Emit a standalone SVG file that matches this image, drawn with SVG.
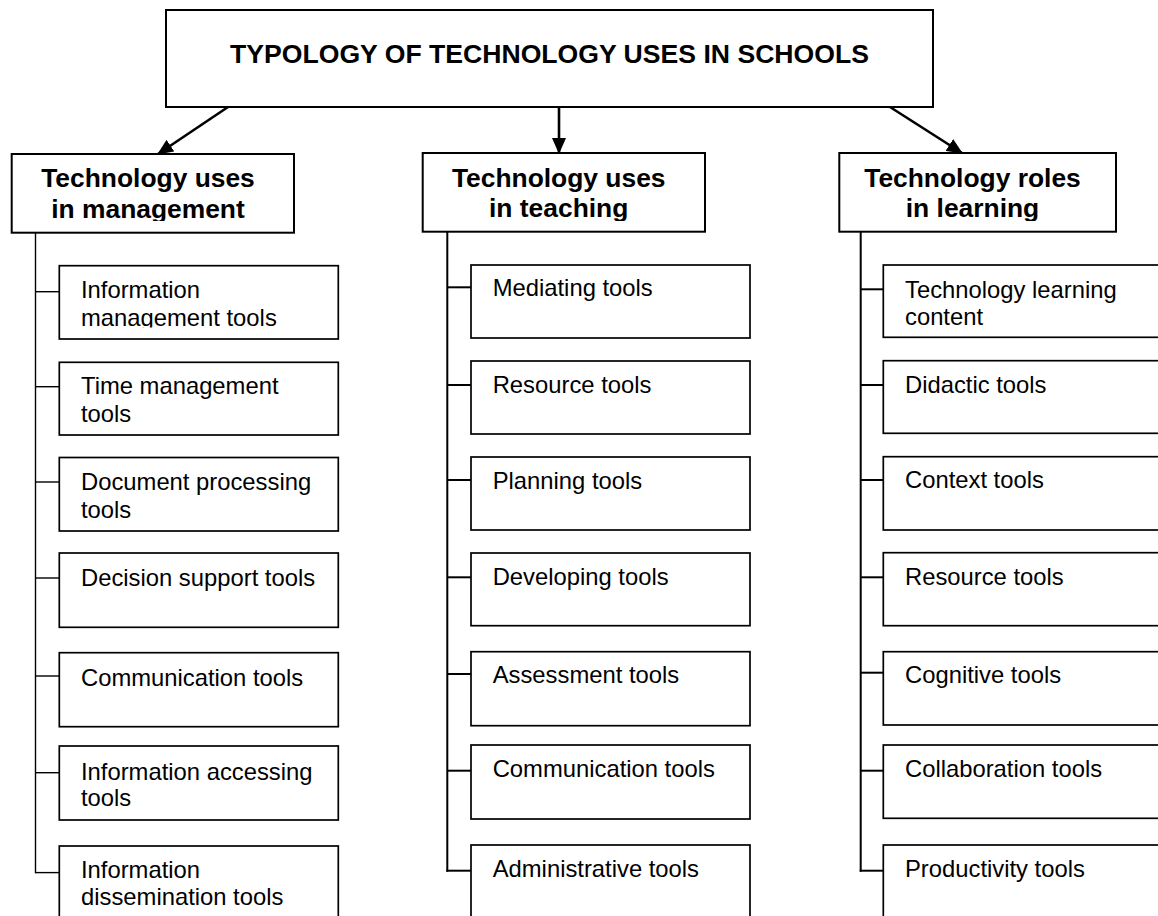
<svg xmlns="http://www.w3.org/2000/svg" width="1158" height="916" viewBox="0 0 1158 916">
<style>
.box{fill:#fff;stroke:#000;stroke-width:2}
.sub{fill:#fff;stroke:#000;stroke-width:1.7}
.title{font-family:"Liberation Sans",Arial,sans-serif;font-weight:bold;font-size:26.6px;fill:#000}
.head{font-family:"Liberation Sans",Arial,sans-serif;font-weight:bold;font-size:26.4px;fill:#000;text-anchor:middle}
.item{font-family:"Liberation Sans",Arial,sans-serif;font-size:23.8px;fill:#000}
.arrow{stroke:#000;stroke-width:2.6;fill:none}
.thin{stroke:#000;stroke-width:1.4;fill:none}
.mid{stroke:#000;stroke-width:2;fill:none}
</style>
<defs>
<marker id="ah" markerWidth="16" markerHeight="14" refX="15" refY="7" orient="auto" markerUnits="userSpaceOnUse" viewBox="0 0 16 14">
<path d="M0,0 L16,7 L0,14 z" fill="#000"/>
</marker>
<clipPath id="hclip"><rect x="0" y="150" width="1158" height="71"/></clipPath>
<clipPath id="c1"><rect x="0" y="266" width="400" height="61.5"/></clipPath>
</defs>
<rect x="0" y="0" width="1158" height="916" fill="#fff"/>

<g id="root">
<rect class="box" x="166" y="10" width="767" height="97"/>
<text class="title" x="549.5" y="63" text-anchor="middle">TYPOLOGY OF TECHNOLOGY USES IN SCHOOLS</text>
</g>

<g id="connectors">
<line class="arrow" x1="228" y1="107" x2="158" y2="154" marker-end="url(#ah)"/>
<line class="arrow" x1="559" y1="107" x2="559" y2="153" marker-end="url(#ah)"/>
<line class="arrow" x1="890" y1="107" x2="962" y2="153" marker-end="url(#ah)"/>
<line class="thin" x1="35.5" y1="233" x2="35.5" y2="873.3"/>
<line class="thin" x1="35.5" y1="291.7" x2="59.3" y2="291.7"/>
<line class="thin" x1="35.5" y1="386.7" x2="59.3" y2="386.7"/>
<line class="thin" x1="35.5" y1="482" x2="59.3" y2="482"/>
<line class="thin" x1="35.5" y1="578" x2="59.3" y2="578"/>
<line class="thin" x1="35.5" y1="676" x2="59.3" y2="676"/>
<line class="thin" x1="35.5" y1="772.7" x2="59.3" y2="772.7"/>
<line class="thin" x1="35.5" y1="872.6" x2="59.3" y2="872.6"/>
<line class="mid" x1="447.3" y1="232" x2="447.3" y2="871.7"/>
<line class="mid" x1="447.3" y1="287.3" x2="471" y2="287.3"/>
<line class="mid" x1="447.3" y1="385" x2="471" y2="385"/>
<line class="mid" x1="447.3" y1="480" x2="471" y2="480"/>
<line class="mid" x1="447.3" y1="577.3" x2="471" y2="577.3"/>
<line class="mid" x1="447.3" y1="674" x2="471" y2="674"/>
<line class="mid" x1="447.3" y1="770.7" x2="471" y2="770.7"/>
<line class="mid" x1="446.3" y1="870.7" x2="471" y2="870.7"/>
<line class="mid" x1="860.7" y1="232" x2="860.7" y2="871.7"/>
<line class="mid" x1="860.7" y1="289.3" x2="883.3" y2="289.3"/>
<line class="mid" x1="860.7" y1="385" x2="883.3" y2="385"/>
<line class="mid" x1="860.7" y1="480" x2="883.3" y2="480"/>
<line class="mid" x1="860.7" y1="577.3" x2="883.3" y2="577.3"/>
<line class="mid" x1="860.7" y1="672.7" x2="883.3" y2="672.7"/>
<line class="mid" x1="860.7" y1="770.7" x2="883.3" y2="770.7"/>
<line class="mid" x1="859.7" y1="870.7" x2="883.3" y2="870.7"/>
</g>

<g id="management">
<rect class="box" x="11.7" y="154" width="282.3" height="78.7"/>
<text class="head" clip-path="url(#hclip)"><tspan x="148" y="187">Technology uses</tspan><tspan x="148" y="218">in management</tspan></text>
</g>
<g id="teaching">
<rect class="box" x="422.7" y="153" width="282.3" height="78.7"/>
<text class="head" clip-path="url(#hclip)"><tspan x="558.7" y="186.5">Technology uses</tspan><tspan x="558.7" y="217">in teaching</tspan></text>
</g>
<g id="learning">
<rect class="box" x="839.3" y="153" width="276.7" height="78.7"/>
<text class="head" clip-path="url(#hclip)"><tspan x="972.5" y="186.5">Technology roles</tspan><tspan x="972.5" y="217">in learning</tspan></text>
</g>

<g id="m1"><rect class="sub" x="59.3" y="265.7" width="279" height="73.3"/>
<text class="item" clip-path="url(#c1)"><tspan x="81" y="298.3">Information</tspan><tspan x="81" y="326">management tools</tspan></text></g>
<g id="m2"><rect class="sub" x="59.3" y="362.3" width="279" height="72.7"/>
<text class="item"><tspan x="81" y="394">Time management</tspan><tspan x="81" y="421.7">tools</tspan></text></g>
<g id="m3"><rect class="sub" x="59.3" y="457.5" width="279" height="73.5"/>
<text class="item"><tspan x="81" y="490">Document processing</tspan><tspan x="81" y="517.5">tools</tspan></text></g>
<g id="m4"><rect class="sub" x="59.3" y="553" width="279" height="74.3"/>
<text class="item"><tspan x="81" y="586">Decision support tools</tspan></text></g>
<g id="m5"><rect class="sub" x="59.3" y="652.7" width="279" height="74"/>
<text class="item"><tspan x="81" y="686">Communication tools</tspan></text></g>
<g id="m6"><rect class="sub" x="59.3" y="746" width="279" height="74"/>
<text class="item"><tspan x="81" y="780">Information accessing</tspan><tspan x="81" y="806">tools</tspan></text></g>
<g id="m7"><rect class="sub" x="59.3" y="846" width="279" height="80"/>
<text class="item"><tspan x="81" y="878.3">Information</tspan><tspan x="81" y="905">dissemination tools</tspan></text></g>

<g id="t1"><rect class="sub" x="471" y="265" width="279" height="73"/>
<text class="item" x="492.7" y="296">Mediating tools</text></g>
<g id="t2"><rect class="sub" x="471" y="361" width="279" height="73"/>
<text class="item" x="492.7" y="393">Resource tools</text></g>
<g id="t3"><rect class="sub" x="471" y="457" width="279" height="73"/>
<text class="item" x="492.7" y="489">Planning tools</text></g>
<g id="t4"><rect class="sub" x="471" y="553" width="279" height="72.7"/>
<text class="item" x="492.7" y="585">Developing tools</text></g>
<g id="t5"><rect class="sub" x="471" y="651.7" width="279" height="74"/>
<text class="item" x="492.7" y="683.3">Assessment tools</text></g>
<g id="t6"><rect class="sub" x="471" y="745" width="279" height="74"/>
<text class="item" x="492.7" y="776.7">Communication tools</text></g>
<g id="t7"><rect class="sub" x="471" y="845" width="279" height="80"/>
<text class="item" x="492.7" y="876.7">Administrative tools</text></g>

<g id="l1"><rect class="sub" x="883.3" y="265" width="279" height="72.3"/>
<text class="item"><tspan x="905" y="298.3">Technology learning</tspan><tspan x="905" y="325">content</tspan></text></g>
<g id="l2"><rect class="sub" x="883.3" y="360.7" width="279" height="72.6"/>
<text class="item" x="905" y="392.7">Didactic tools</text></g>
<g id="l3"><rect class="sub" x="883.3" y="456.7" width="279" height="73.3"/>
<text class="item" x="905" y="488.3">Context tools</text></g>
<g id="l4"><rect class="sub" x="883.3" y="552.7" width="279" height="73"/>
<text class="item" x="905" y="585">Resource tools</text></g>
<g id="l5"><rect class="sub" x="883.3" y="651.7" width="279" height="73.3"/>
<text class="item" x="905" y="683.3">Cognitive tools</text></g>
<g id="l6"><rect class="sub" x="883.3" y="745" width="279" height="73.3"/>
<text class="item" x="905" y="776.7">Collaboration tools</text></g>
<g id="l7"><rect class="sub" x="883.3" y="845" width="279" height="80"/>
<text class="item" x="905" y="876.7">Productivity tools</text></g>
</svg>
